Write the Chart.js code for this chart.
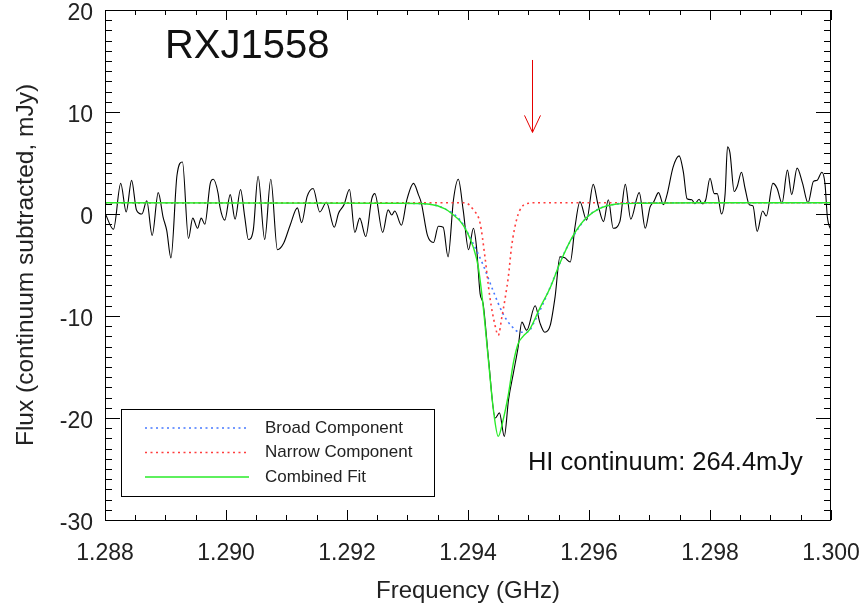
<!DOCTYPE html>
<html>

<head>
  <title>RXJ1558 HI absorption</title>
  <script src="https://cdn.jsdelivr.net/npm/chart.js@4.4.1/dist/chart.umd.min.js"></script>
  <style>
    body { margin: 0; background: #fff; }
  </style>
</head>

<body>
  <canvas id="spectrum" width="864" height="607"></canvas>
  <script>
    // observed spectrum (GHz, mJy)
    var freq = [
      1.28800, 1.28814, 1.28826, 1.28835, 1.28844, 1.28852, 1.28861, 1.28869, 1.28878, 1.28888,
      1.28896, 1.28902, 1.28909, 1.28919, 1.28928, 1.28938, 1.28945, 1.28953, 1.28959, 1.28965,
      1.28974, 1.28979, 1.28987, 1.28990, 1.28998, 1.29007, 1.29015, 1.29024, 1.29031, 1.29037,
      1.29045, 1.29053, 1.29064, 1.29074, 1.29085, 1.29095, 1.29106, 1.29118, 1.29125, 1.29134,
      1.29144, 1.29155, 1.29166, 1.29179, 1.29186, 1.29195, 1.29204, 1.29213, 1.29221, 1.29231,
      1.29241, 1.29246, 1.29259, 1.29268, 1.29274, 1.29279, 1.29290, 1.29299, 1.29310, 1.29318,
      1.29323, 1.29333, 1.29343, 1.29351, 1.29359, 1.29367, 1.29376, 1.29384, 1.29392, 1.29401,
      1.29409, 1.29414, 1.29420, 1.29425, 1.29434, 1.29445, 1.29452, 1.29460, 1.29467, 1.29475,
      1.29483, 1.29489, 1.29497, 1.29511, 1.29519, 1.29527, 1.29536, 1.29544, 1.29552, 1.29560,
      1.29569, 1.29577, 1.29585, 1.29596, 1.29607, 1.29615, 1.29624, 1.29632, 1.29640, 1.29651,
      1.29660, 1.29669, 1.29683, 1.29693, 1.29701, 1.29707, 1.29715, 1.29723, 1.29729, 1.29739,
      1.29749, 1.29756, 1.29762, 1.29770, 1.29775, 1.29782, 1.29787, 1.29793, 1.29800, 1.29807,
      1.29812, 1.29819, 1.29825, 1.29829, 1.29833, 1.29840, 1.29845, 1.29852, 1.29858, 1.29865,
      1.29871, 1.29878, 1.29887, 1.29893, 1.29904, 1.29911, 1.29919, 1.29928, 1.29935, 1.29944,
      1.29953, 1.29962, 1.29971, 1.29977, 1.29985, 1.29990, 1.29994, 1.30000
    ];
    var flux = [
      0.1, -1.5, 3.0, 0.2, 3.3, 0.4, 0.0, 1.3, -2.1, 2.1,
      -0.3, -1.6, -4.3, 3.8, 5.1, -2.4, -0.4, -1.4, -0.4, -1.0,
      3.0, 3.4, 2.0, 0.7, -0.6, 1.9, -0.5, 2.4, -0.3, -2.5,
      -1.6, 3.7, -2.5, 3.4, -3.5, -2.9, -1.1, 0.6, -0.85, 1.7,
      2.5, 0.2, 1.15, -1.3, 0.07, 0.9, 2.4, -1.8, -0.4, -2.2,
      1.5, 2.0, -1.8, 0.4, -0.1, 0.3, -1.1, 1.4, 3.0, 1.9,
      1.05, -2.1, -2.8, -1.2, -1.3, -4.2, 1.4, 3.4, 0.4, -3.5,
      -1.4, -3.2, -7.8, -8.8, -14.3, -20.0, -19.5, -21.8, -18.2, -15.6,
      -13.0, -10.6, -11.4, -9.0, -10.7, -11.6, -10.9, -8.1, -4.2, -4.3,
      -4.7, -1.2, 1.2, -0.6, 2.9, 0.9, -0.75, 1.4, -1.4, -0.75,
      2.9, -0.5, 2.1, -1.4, 0.7, 1.2, 2.1, 0.9, 1.9, 4.6,
      5.7, 4.1, 1.5, 1.4, 1.0, 1.44, 1.0, 1.4, 3.5, 2.0,
      2.0, 0.0, 2.0, 6.6, 6.0, 2.2, 2.7, 4.1, 2.5, 0.9,
      0.8, -1.7, 0.3, -0.2, 3.0, 2.5, 1.05, 4.3, 1.9, 4.5,
      3.0, 1.1, 3.2, 3.3, 4.1, 3.0, -0.3, -1.6
    ];

    // broad gaussian component
    var broadFreq = [
      1.28800, 1.29288, 1.29337, 1.29362, 1.29387, 1.29406, 1.29425, 1.29442, 1.29458, 1.29472,
      1.29486, 1.29498, 1.29511, 1.29527, 1.29544, 1.29560, 1.29577, 1.29596, 1.29618, 1.29643,
      1.29684, 1.30000
    ];
    var broadFlux = [
      1.1, 1.05, 0.95, 0.5, -0.6, -2.6, -5.0, -7.6, -9.8, -11.0,
      -11.6, -11.6, -10.4, -8.4, -6.0, -3.7, -1.9, -0.35, 0.56, 0.96,
      1.1, 1.1
    ];

    // narrow gaussian component
    var narrowFreq = [
      1.28800, 1.29395, 1.29409, 1.29420, 1.29428, 1.29436, 1.29445, 1.29450, 1.29456, 1.29461,
      1.29467, 1.29472, 1.29481, 1.29489, 1.29500, 1.29511, 1.30000
    ];
    var narrowFlux = [
      1.1, 1.1, 0.4, -0.9, -4.2, -8.1, -11.0, -11.9, -10.1, -8.4,
      -6.0, -3.2, -0.4, 0.7, 1.05, 1.1, 1.1
    ];

    // sum of both components
    var fitFreq = [
      1.28800, 1.29288, 1.29337, 1.29362, 1.29376, 1.29387, 1.29398, 1.29409, 1.29417, 1.29425,
      1.29434, 1.29442, 1.29450, 1.29458, 1.29467, 1.29475, 1.29483, 1.29491, 1.29502, 1.29519,
      1.29536, 1.29552, 1.29574, 1.29596, 1.29618, 1.29643, 1.29684, 1.29783, 1.30000
    ];
    var fitFlux = [
      1.1, 1.05, 0.95, 0.5, -0.1, -0.7, -1.7, -3.3, -5.2, -9.0,
      -14.5, -19.2, -21.8, -20.2, -17.6, -14.6, -12.7, -12.0, -11.3, -9.2,
      -7.2, -4.8, -2.1, -0.35, 0.56, 0.96, 1.05, 1.1, 1.1
    ];

    var freqTicks = [1.288, 1.290, 1.292, 1.294, 1.296, 1.298, 1.300];
    var fluxTicks = [20, 10, 0, -10, -20, -30];

    var arrowFreq = 1.29505;
    var arrowFrom = 15.1;
    var arrowTo = 8.0;

    var BLUE = 'rgb(70,120,255)';
    var RED = 'rgb(255,60,60)';
    var GREEN = 'rgb(40,235,40)';
    var FONT = '"Liberation Sans", Arial, Helvetica, sans-serif';

    function pts(xs, ys) {
      return xs.map(function (x, i) { return { x: x, y: ys[i] }; });
    }

    // IDL-style frame with inward ticks on all four sides, plus labels
    var framePlugin = {
      id: 'frame',
      afterDatasetsDraw: function (chart) {
        var ctx = chart.ctx;
        var a = chart.chartArea;
        var xs = chart.scales.x;
        var ys = chart.scales.y;
        ctx.save();
        ctx.strokeStyle = '#000';
        ctx.lineWidth = 1;
        ctx.beginPath();
        ctx.rect(Math.round(a.left) + 0.5, Math.round(a.top) + 0.5,
          Math.round(a.right - a.left) - 1, Math.round(a.bottom - a.top));
        ctx.stroke();

        ctx.beginPath();
        for (var f = 0; f <= 24; f++) {
          var px = Math.round(xs.getPixelForValue(1.288 + f * 0.0005)) + 0.5;
          var len = (f % 4 === 0) ? 10 : 5;
          ctx.moveTo(px, a.bottom); ctx.lineTo(px, a.bottom - len);
          ctx.moveTo(px, a.top); ctx.lineTo(px, a.top + len);
        }
        for (var v = -30; v <= 20; v++) {
          var py = Math.round(ys.getPixelForValue(v)) + 0.5;
          var l2 = (v % 10 === 0) ? 15 : 7;
          ctx.moveTo(a.left, py); ctx.lineTo(a.left + l2, py);
          ctx.moveTo(a.right, py); ctx.lineTo(a.right - l2, py);
        }
        ctx.stroke();

        // absorption marker
        var ax = Math.round(xs.getPixelForValue(arrowFreq)) + 0.5;
        var ay0 = ys.getPixelForValue(arrowFrom);
        var ay1 = ys.getPixelForValue(arrowTo);
        ctx.strokeStyle = 'rgb(230,0,0)';
        ctx.beginPath();
        ctx.moveTo(ax, ay0); ctx.lineTo(ax, ay1);
        ctx.moveTo(ax - 8, ay1 - 17); ctx.lineTo(ax, ay1); ctx.lineTo(ax + 8, ay1 - 17);
        ctx.stroke();

        // source name and continuum note
        ctx.fillStyle = '#111';
        ctx.textBaseline = 'middle';
        ctx.textAlign = 'left';
        ctx.font = '40px ' + FONT;
        ctx.fillText('RXJ1558', xs.getPixelForValue(1.28899), ys.getPixelForValue(16.4));
        ctx.font = '25.5px ' + FONT;
        ctx.fillText('HI continuum: 264.4mJy', xs.getPixelForValue(1.29499), ys.getPixelForValue(-24.4));

        // legend box in the lower left corner
        var lx = a.left + 16, ly = a.bottom - 111, lw = 313, lh = 87;
        ctx.fillStyle = '#fff';
        ctx.fillRect(lx, ly, lw, lh);
        ctx.strokeStyle = '#000';
        ctx.strokeRect(Math.round(lx) + 0.5, Math.round(ly) + 0.5, lw, lh);
        var rows = [
          { label: 'Broad Component', color: BLUE, dash: [2, 3.5] },
          { label: 'Narrow Component', color: RED, dash: [2, 3.5] },
          { label: 'Combined Fit', color: GREEN, dash: [] }
        ];
        ctx.font = '17px ' + FONT;
        rows.forEach(function (r, i) {
          var ry = ly + 19 + i * 24.5;
          ctx.strokeStyle = r.color;
          ctx.lineWidth = 1.6;
          ctx.setLineDash(r.dash);
          ctx.beginPath();
          ctx.moveTo(lx + 24, ry); ctx.lineTo(lx + 128, ry);
          ctx.stroke();
          ctx.setLineDash([]);
          ctx.fillStyle = '#222';
          ctx.fillText(r.label, lx + 144, ry);
        });
        ctx.restore();
      }
    };

    var chart = new Chart(document.getElementById('spectrum'), {
      type: 'line',
      data: {
        datasets: [
          {
            label: 'Spectrum',
            data: pts(freq, flux),
            borderColor: '#000',
            borderWidth: 1.1,
            cubicInterpolationMode: 'monotone',
            pointRadius: 0,
            order: 4
          },
          {
            label: 'Broad Component',
            data: pts(broadFreq, broadFlux),
            borderColor: BLUE,
            borderWidth: 1.6,
            borderDash: [2, 3.5],
            cubicInterpolationMode: 'monotone',
            pointRadius: 0,
            order: 3
          },
          {
            label: 'Narrow Component',
            data: pts(narrowFreq, narrowFlux),
            borderColor: RED,
            borderWidth: 1.6,
            borderDash: [2, 3.5],
            cubicInterpolationMode: 'monotone',
            pointRadius: 0,
            order: 2
          },
          {
            label: 'Combined Fit',
            data: pts(fitFreq, fitFlux),
            borderColor: GREEN,
            borderWidth: 1.4,
            cubicInterpolationMode: 'monotone',
            pointRadius: 0,
            order: 1
          }
        ]
      },
      options: {
        responsive: false,
        animation: false,
        devicePixelRatio: 1,
        layout: { padding: { top: 10, right: 33, left: 0, bottom: 0 } },
        plugins: {
          legend: { display: false },
          tooltip: { enabled: false }
        },
        scales: {
          x: {
            type: 'linear',
            min: 1.288,
            max: 1.300,
            grid: { display: false, drawTicks: false },
            border: { display: false },
            afterBuildTicks: function (s) {
              s.ticks = freqTicks.map(function (v) { return { value: v }; });
            },
            afterFit: function (s) {
              s.height = 87;
              s.paddingLeft = 0;
              s.paddingRight = 0;
            },
            ticks: {
              padding: 20,
              color: '#222',
              maxRotation: 0,
              font: { family: FONT, size: 23 },
              callback: function (v) { return Number(v).toFixed(3); }
            },
            title: {
              display: true,
              text: 'Frequency (GHz)',
              color: '#222',
              font: { family: FONT, size: 24 },
              padding: { top: 0, bottom: 1 }
            }
          },
          y: {
            min: -30,
            max: 20,
            grid: { display: false, drawTicks: false },
            border: { display: false },
            afterBuildTicks: function (s) {
              s.ticks = fluxTicks.map(function (v) { return { value: v }; });
            },
            afterFit: function (s) {
              s.width = 105;
              s.paddingTop = 0;
              s.paddingBottom = 0;
            },
            ticks: {
              padding: 12,
              labelOffset: 4,
              color: '#222',
              font: { family: FONT, size: 23 }
            },
            title: {
              display: true,
              text: 'Flux (continuum subtracted, mJy)',
              color: '#222',
              font: { family: FONT, size: 24.5 },
              padding: { top: 12, bottom: 0 }
            }
          }
        }
      },
      plugins: [framePlugin]
    });
  </script>
</body>

</html>
